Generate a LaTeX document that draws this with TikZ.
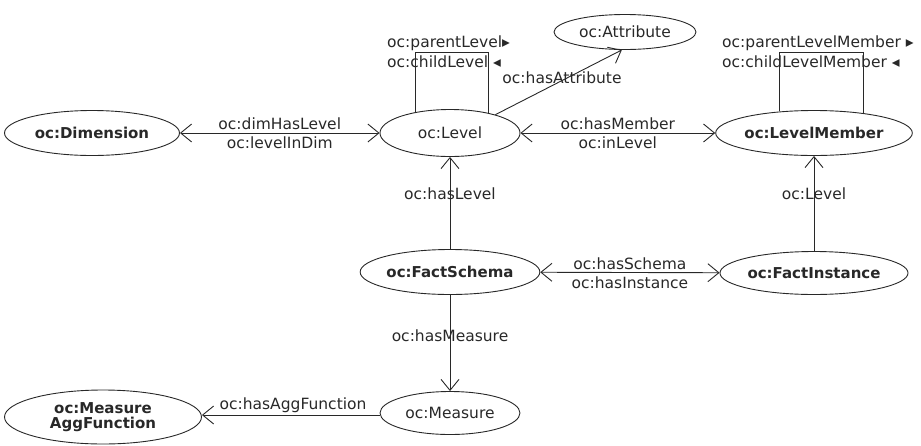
\documentclass[tikz,border=0pt]{standalone}
\usepackage{fontspec}
\setmainfont{DejaVu Sans}
\usetikzlibrary{shapes.geometric,arrows.meta}
\definecolor{ink}{RGB}{40,40,40}
\tikzset{
  cls/.style={ellipse, draw=ink, line width=0.9pt, inner sep=0pt, text=ink, font=\fontsize{15.5}{17}\selectfont},
  bcls/.style={cls, font=\fontsize{15}{17}\selectfont\bfseries, align=center},
  lbl/.style={text=ink, font=\fontsize{15.5}{17}\selectfont, inner sep=0pt},
  rel/.style={draw=ink, line width=0.9pt},
  tip/.style={-{Straight Barb[length=11pt,width=18pt,line width=0.9pt]}},
  tips/.style={{Straight Barb[length=11pt,width=18pt,line width=0.9pt]}-{Straight Barb[length=11pt,width=18pt,line width=0.9pt]}},
}
\begin{document}
\begin{tikzpicture}[x=1pt,y=-1pt]
\useasboundingbox (0,0) rectangle (921,445);
% nodes
\node[bcls, minimum width=175, minimum height=45] (dim) at (92,133) {oc:Dimension};
\node[cls, minimum width=140, minimum height=47] (lev) at (450,133) {oc:Level};
\node[cls, minimum width=142, minimum height=35] (att) at (625,32) {oc:Attribute};
\node[bcls, minimum width=185, minimum height=45] (lm) at (814,133) {oc:LevelMember};
\node[bcls, minimum width=165, minimum height=45] (fs) at (450,272) {oc:FactSchema};
\node[bcls, minimum width=187, minimum height=43] (fi) at (814,273) {oc:FactInstance};
\node[cls, minimum width=140, minimum height=43] (mea) at (450,413) {oc:Measure};
\node[bcls, minimum width=197, minimum height=54] (agg) at (103,417) {oc:Measure\\[-2pt]AggFunction};

% loop coordinates
\coordinate (ltop) at (450,52);
\coordinate (lmtop) at (814,52);

% self loops
\draw[rel] (lev.149) -- (lev.149 |- ltop) -- (lev.28 |- ltop) -- (lev.28);
\draw[rel] (lm.148) -- (lm.148 |- lmtop) -- (lm.22 |- lmtop) -- (lm.22);
\node[lbl, anchor=west] (pl) at (387,43) {oc:parentLevel▸};
\node[lbl, anchor=west] (cl) at (387,62) {oc:childLevel ◂};
\node[lbl, anchor=west] (plm) at (722,43) {oc:parentLevelMember ▸};
\node[lbl, anchor=west] (clm) at (722,62) {oc:childLevelMember ◂};

% relations
\draw[rel, tips] (dim) -- (lev)
  node[lbl, midway, yshift=9] (r1) {oc:dimHasLevel}
  node[lbl, midway, yshift=-10] (r2) {oc:levelInDim};
\draw[rel, tips] (lev) -- (lm)
  node[lbl, midway, yshift=9] (r3) {oc:hasMember}
  node[lbl, midway, yshift=-10] (r4) {oc:inLevel};
\draw[rel, tip] (lev.22) -- (att.-100);
\node[lbl] (r5) at (562,78) {oc:hasAttribute};
\draw[rel, tip] (fs) -- (lev) node[lbl, pos=0.6] (r6) {oc:hasLevel};
\draw[rel, tip] (fi) -- (lm) node[lbl, pos=0.6] (r7) {oc:Level};
\draw[rel, tips] (fs) -- (fi)
  node[lbl, midway, yshift=9] (r8) {oc:hasSchema}
  node[lbl, midway, yshift=-10] (r9) {oc:hasInstance};
\draw[rel, tip] (fs) -- (mea) node[lbl, pos=0.42] (r10) {oc:hasMeasure};
\draw[rel, tip] (mea.west |- 0,415) -- (agg.east |- 0,415);
\node[lbl] (r11) at (293,405) {oc:hasAggFunction};
\end{tikzpicture}
\end{document}
